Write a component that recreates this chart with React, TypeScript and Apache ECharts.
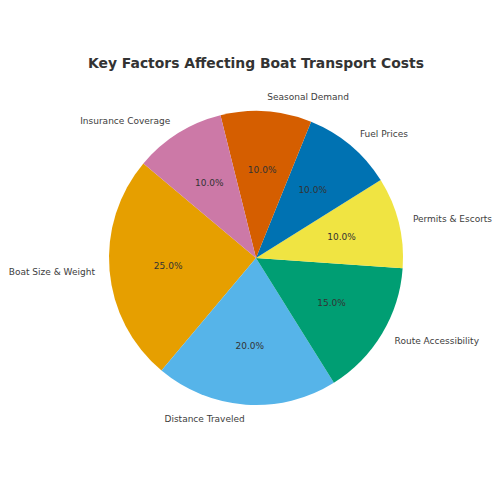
import { useEffect, useRef } from 'react';
import * as echarts from 'echarts';

const categories = [
    'Boat Size & Weight',
    'Distance Traveled',
    'Route Accessibility',
    'Permits & Escorts',
    'Fuel Prices',
    'Seasonal Demand',
    'Insurance Coverage'
];
const shares = [25, 20, 15, 10, 10, 10, 10];
const colors = ['#E69F00', '#56B4E9', '#009E73', '#F0E442', '#0072B2', '#D55E00', '#CC79A7'];

const FONT = 'DejaVu Sans';
const R = 147;
const CENTER = [256, 258];

const App = () => {
    const chartRef = useRef<HTMLDivElement>(null);

    useEffect(() => {
        if (!chartRef.current) return;
        const chart = echarts.init(chartRef.current, undefined, { renderer: 'svg' });

        const data = categories.map((name, i) => ({
            name,
            value: shares[i],
            itemStyle: { color: colors[i] }
        }));

        chart.setOption({
            animation: false,
            backgroundColor: '#ffffff',
            title: {
                text: 'Key Factors Affecting Boat Transport Costs',
                left: 83,
                top: 51,
                textStyle: { fontFamily: FONT, fontSize: 13.9, fontWeight: 'bold', color: '#333333' }
            },
            series: [
                {
                    type: 'pie',
                    center: CENTER,
                    radius: R,
                    startAngle: 140,
                    clockwise: false,
                    avoidLabelOverlap: false,
                    silent: true,
                    itemStyle: { borderWidth: 0 },
                    label: {
                        show: true,
                        position: 'outside',
                        distanceToLabelLine: 0,
                        fontFamily: FONT,
                        fontSize: 9,
                        color: '#3d3d3d',
                        formatter: '{b}'
                    },
                    labelLine: { show: false, length: R * 0.1, length2: 0 },
                    data
                },
                {
                    // invisible ring only used to place the percentage labels at 0.6R
                    type: 'pie',
                    center: CENTER,
                    radius: 2 * (R * 0.6 - 3),
                    startAngle: 140,
                    clockwise: false,
                    avoidLabelOverlap: false,
                    silent: true,
                    z: 3,
                    itemStyle: { color: 'rgba(0,0,0,0)', borderWidth: 0 },
                    label: {
                        show: true,
                        position: 'inside',
                        fontFamily: FONT,
                        fontSize: 9,
                        color: '#333333',
                        formatter: (p: any) => p.value.toFixed(1) + '%'
                    },
                    labelLine: { show: false },
                    data: categories.map((name, i) => ({ name, value: shares[i] }))
                }
            ]
        });

        return () => chart.dispose();
    }, []);

    return <div ref={chartRef} style={{ position: 'fixed', left: 0, top: 0, width: 500, height: 500 }} />;
};

export default App;
